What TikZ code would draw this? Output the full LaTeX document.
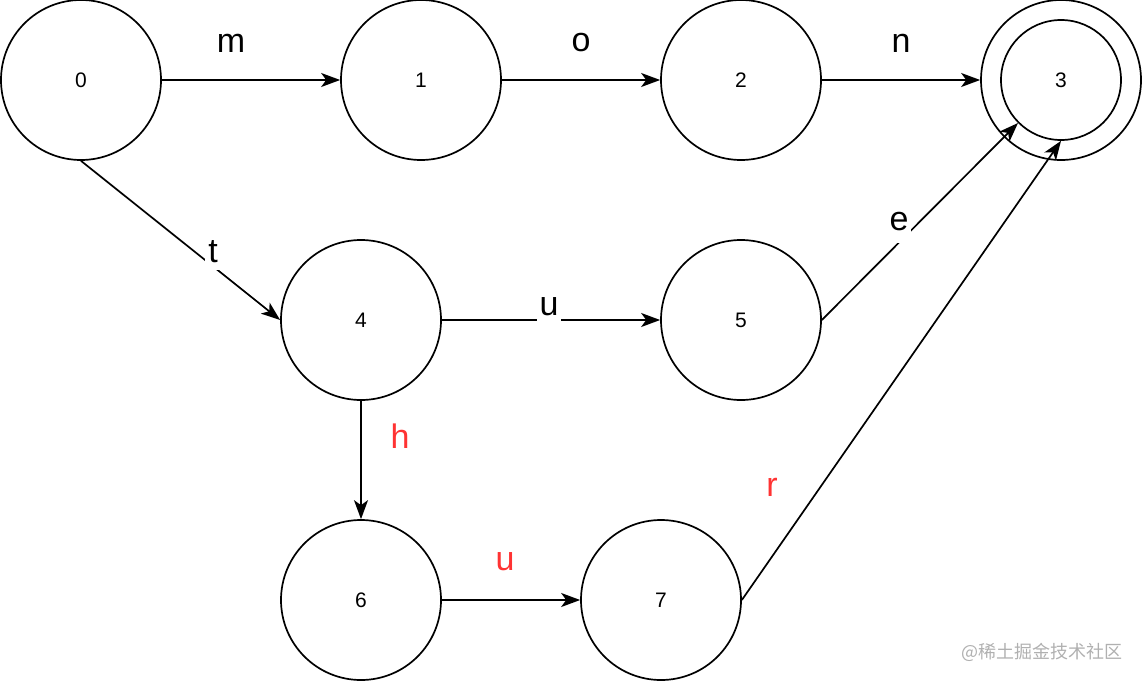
\documentclass[tikz,border=0pt]{standalone}
\usepackage{fontspec}
\setmainfont{Liberation Sans}
\newfontfamily\cjk{Noto Sans CJK SC}
\usetikzlibrary{arrows.meta}
\definecolor{lblred}{HTML}{FF3333}
\definecolor{wmgray}{HTML}{B0B0B0}
\begin{document}
\begin{tikzpicture}[x=1pt,y=-1pt,
  state/.style={circle,draw,line width=1.7pt,minimum size=160pt,inner sep=0pt,font=\fontsize{21}{24}\selectfont},
  edge/.style={line width=1.7pt,-{Stealth[length=19pt,width=14pt,inset=5pt]}},
  lbl/.style={font=\fontsize{34}{38}\selectfont,inner sep=1pt},
  lblw/.style={lbl,fill=white,inner sep=3pt},
  rlbl/.style={lbl,text=lblred}]
\useasboundingbox (0,0) rectangle (1142,682);
\node[state] (s0) at (81,80) {0};
\node[state] (s1) at (421,80) {1};
\node[state] (s2) at (741,80) {2};
\node[state] (s3) at (1061,80) {};
\node[state,minimum size=120pt] (s3i) at (1061,80) {3};
\node[state] (s4) at (361,320) {4};
\node[state] (s5) at (741,320) {5};
\node[state] (s6) at (361,600) {6};
\node[state] (s7) at (661,600) {7};
\draw[edge] (s0) -- (s1);
\draw[edge] (s1) -- (s2);
\draw[edge] (s2) -- (s3);
\draw[edge] (s0.south) -- (s4.west);
\draw[edge] (s4) -- (s5);
\draw[edge] (s5.east) -- (s3i.225);
\draw[edge] (s4) -- (s6);
\draw[edge] (s6) -- (s7);
\draw[edge] (s7.east) -- (s3i.south);
\node[lbl] (lm) at (231,43) {m};
\node[lbl] (lo) at (581,43) {o};
\node[lbl] (ln) at (901,43) {n};
\node[lblw,minimum height=36pt] (lt) at (213,252) {t};
\node[lblw,minimum height=30pt] (lu) at (549,307) {u};
\node[lblw,minimum height=42pt] (le) at (899,222) {e};
\node[rlbl] (lh) at (400,436) {h};
\node[rlbl] (lu2) at (505,562) {u};
\node[rlbl] (lr) at (772,487) {r};
\node[font=\cjk\fontsize{18}{21}\selectfont,text=wmgray,inner sep=0pt] (wm) at (1042,652) {@稀土掘金技术社区};
\end{tikzpicture}
\end{document}
